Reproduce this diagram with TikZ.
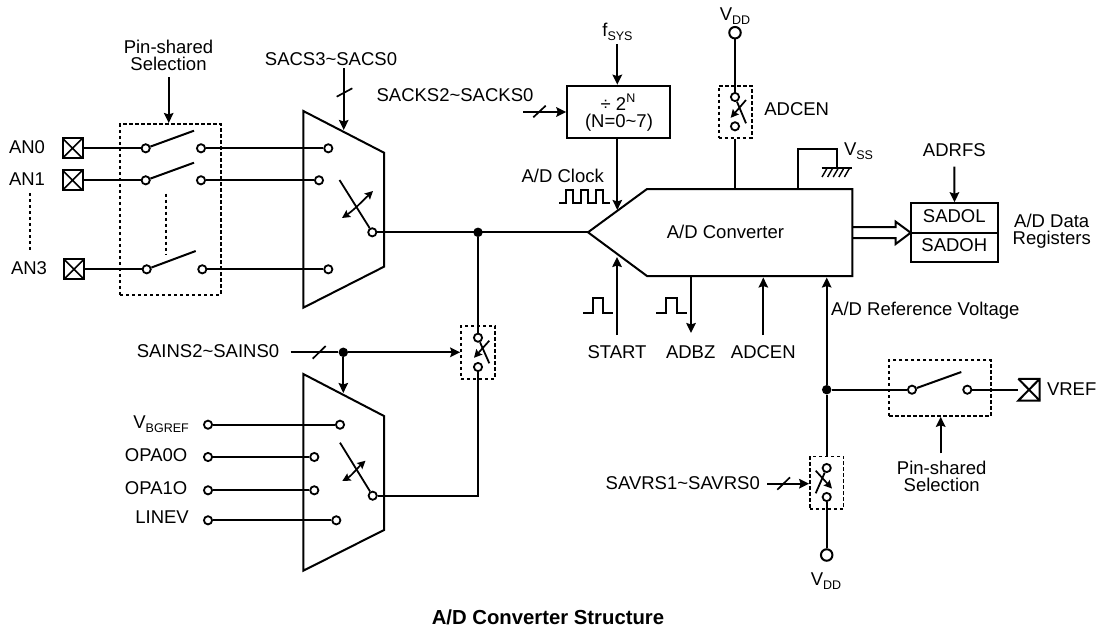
\documentclass[tikz,border=0pt]{standalone}
\usepackage{fontspec}
\setmainfont{Liberation Sans}
\usetikzlibrary{arrows.meta}
\newcommand{\lsub}[1]{\raisebox{-0.22em}{\fontsize{12.5}{12.5}\selectfont #1}}
\newcommand{\lsup}[1]{\raisebox{0.42em}{\fontsize{12.5}{12.5}\selectfont #1}}
\tikzset{
  wire/.style={line width=2pt,line cap=butt,line join=miter},
  arr/.style={wire,-{Stealth[length=10pt,width=9.5pt,inset=1.5pt]}},
  arrb/.style={wire,line width=1.7pt,{Stealth[length=8pt,width=8pt,inset=1.2pt]}-{Stealth[length=8pt,width=8pt,inset=1.2pt]}},
  arre/.style={wire,line width=1.7pt,-{Stealth[length=8pt,width=8pt,inset=1.2pt]}},
  thin wire/.style={line width=1.7pt},
  dbox/.style={line width=1.6pt,dash pattern=on 3.4pt off 2.6pt},
  pt/.style={circle,draw,line width=1.8pt,fill=white,minimum size=8.2pt,inner sep=0pt},
  bigpt/.style={circle,draw,line width=2pt,fill=white,minimum size=11.5pt,inner sep=0pt},
  dot/.style={circle,fill=black,minimum size=9.5pt,inner sep=0pt},
  lab/.style={inner sep=0pt,font=\fontsize{18.5}{17}\selectfont,align=center},
  pad/.style={rectangle,draw,line width=2pt,minimum size=20pt,inner sep=0pt,
    path picture={\draw[line width=1.6pt] (path picture bounding box.north west)--(path picture bounding box.south east)
      (path picture bounding box.north east)--(path picture bounding box.south west);}},
  blk/.style={rectangle,draw,line width=2pt,inner sep=0pt,font=\fontsize{18.5}{20}\selectfont,align=center},
}
\begin{document}
\begin{tikzpicture}[x=1pt,y=-1pt]
\useasboundingbox (0,0) rectangle (1099,629);
% ---------- pads and labels on the left
\node[lab] (lan0) at (27,147) {AN0};
\node[lab] (lan1) at (27,179.5) {AN1};
\node[lab] (lan3) at (29,268) {AN3};
\coordinate (anda) at (30,193); \coordinate (andb) at (30,251);
\draw[dbox] (anda) -- (andb);
\node[pad] (p0) at (72.5,148.3) {};
\node[pad] (p1) at (72.5,180.3) {};
\node[pad] (p3) at (74,269.3) {};
% ---------- pin shared box 1
\node[lab] (ps1) at (168.5,55.5) {Pin-shared\\Selection};
\node[draw,dbox,minimum width=101pt,minimum height=170.5pt,inner sep=0pt] (pb1) at (170.5,209.5) {};
\coordinate (ps1a) at (168.7,77);
\coordinate (ps1b) at (168.7,123);
\draw[arr] (ps1a) -- (ps1b);
\node[pt] (a0l) at (145.7,148.3) {};
\node[pt] (a0r) at (201,148.3) {};
\node[pt] (a1l) at (145.7,180.3) {};
\node[pt] (a1r) at (201,180.3) {};
\node[pt] (a3l) at (146.7,269.3) {};
\node[pt] (a3r) at (202.3,269.3) {};
\coordinate (a0t) at (194,130.7);
\coordinate (a1t) at (194,162.7);
\coordinate (a3t) at (195.7,251);
\draw[wire] (p0) -- (a0l); \draw[wire] (p1) -- (a1l); \draw[wire] (p3) -- (a3l);
\draw[wire] (a0l) -- (a0t); \draw[wire] (a1l) -- (a1t); \draw[wire] (a3l) -- (a3t);
\coordinate (pda) at (166,193.5); \coordinate (pdb) at (166,255);
\draw[dbox] (pda) -- (pdb);
% ---------- mux 1
\coordinate (m1a) at (303.3,111); \coordinate (m1b) at (384,152.7);
\coordinate (m1c) at (384,266.7); \coordinate (m1d) at (303.3,307.7);
\draw[wire,line join=miter] (m1a) -- (m1b) -- (m1c) -- (m1d) -- cycle;
\node[pt] (m0) at (328.3,148.3) {};
\node[pt] (m1) at (319,180.3) {};
\node[pt] (m3) at (328.3,269.3) {};
\node[pt] (mo) at (372.3,232.3) {};
\coordinate (mt) at (339.5,180);
\draw[wire] (a0r) -- (m0); \draw[wire] (a1r) -- (m1); \draw[wire] (a3r) -- (m3);
\draw[wire,line width=1.8pt] (mo) -- (mt);
\coordinate (mca) at (373,191); \coordinate (mcb) at (342,218);
\draw[arrb] (mca) .. controls (364,199.5) and (354,210) .. (mcb);
% SACS
\node[lab] (sacs) at (331,59) {SACS3\textasciitilde SACS0};
\coordinate (sa) at (343.7,68); \coordinate (sb) at (343.7,130);
\draw[arr] (sa) -- (sb);
\coordinate (s1) at (336.7,96.7); \coordinate (s2) at (352.3,88.3);
\draw[thin wire] (s1) -- (s2);
% main line
\coordinate (tip) at (588,232.3);
\node[dot] (j1) at (478,232.3) {};
\draw[wire] (mo) -- (tip);
% ---------- input switch
\node[draw,dbox,minimum width=34pt,minimum height=53pt,inner sep=0pt] (sw1) at (478,352.3) {};
\node[pt] (sw1a) at (478,337.7) {};
\node[pt] (sw1b) at (478,367) {};
\draw[wire] (j1) -- (sw1a);
\coordinate (sw1c) at (489.3,363.3);
\coordinate (sw1d) at (489.3,340.7); \coordinate (sw1e) at (474,357.8);
\draw[wire,line width=1.8pt] (sw1a) -- (sw1c);
\draw[arre] (sw1d) -- (sw1e);
% SAINS
\node[lab] (sains) at (208,351) {SAINS2\textasciitilde SAINS0};
\coordinate (sn) at (290.7,352.3);
\node[dot] (j2) at (343.3,352.3) {};
\coordinate (sn1) at (312.7,358.7); \coordinate (sn2) at (325.7,346);
\draw[wire] (sn) -- (j2);
\draw[arr] (j2) -- (sw1.west);
\draw[thin wire] (sn1) -- (sn2);
\coordinate (m2top) at (343.3,393);
\draw[arr] (j2) -- (m2top);
% ---------- mux 2
\coordinate (n1a) at (303.3,374); \coordinate (n1b) at (384,416);
\coordinate (n1c) at (384,530); \coordinate (n1d) at (303.3,570.7);
\draw[wire] (n1a) -- (n1b) -- (n1c) -- (n1d) -- cycle;
\node[pt] (v0l) at (208,424.7) {}; \node[pt] (v0r) at (340,424.7) {};
\node[pt] (v1l) at (208,457) {};   \node[pt] (v1r) at (314.3,457) {};
\node[pt] (v2l) at (208,490.3) {}; \node[pt] (v2r) at (314.3,490.3) {};
\node[pt] (v3l) at (208,520.3) {}; \node[pt] (v3r) at (336.3,520.3) {};
\draw[wire] (v0l) -- (v0r); \draw[wire] (v1l) -- (v1r);
\draw[wire] (v2l) -- (v2r); \draw[wire] (v3l) -- (v3r);
\node[pt] (no) at (372.7,495.7) {};
\coordinate (nt) at (340,442.7);
\draw[wire,line width=1.8pt] (no) -- (nt);
\coordinate (nca) at (365.5,460.7); \coordinate (ncb) at (342.3,481);
\draw[arrb] (nca) .. controls (358,467.5) and (351,476) .. (ncb);
\draw[wire] (no) -| (sw1b);
\node[lab,anchor=east] (lv0) at (189,424) {V\lsub{BGREF}};
\node[lab,anchor=east] (lv1) at (187.5,455) {OPA0O};
\node[lab,anchor=east] (lv2) at (187.5,488) {OPA1O};
\node[lab,anchor=east] (lv3) at (189,517.5) {LINEV};
% ---------- converter
\coordinate (ca) at (647,189); \coordinate (cb) at (852.3,189);
\coordinate (cc) at (852.3,276); \coordinate (cd) at (647,276);
\draw[wire] (tip) -- (ca) -- (cb) -- (cc) -- (cd) -- cycle;
\node[lab] (conv) at (725.5,232) {A/D Converter};
% ---------- divider
\node[blk,minimum width=103pt,minimum height=52pt] (div) at (618.8,111.7) {};
\node[lab] (d1) at (618,102) {÷ 2\lsup{N}};
\node[lab] (d2) at (619,122.7) {(N=0\textasciitilde 7)};
\node[lab] (fsys) at (617.5,32) {f\lsub{SYS}};
\coordinate (fa) at (617.3,44);
\draw[arr] (fa) -- (div.north-|fa);
\coordinate (ckt) at (617.3,210);
\draw[arr] (div.south-|fa) -- (ckt);
\node[lab] (sacks) at (455,95) {SACKS2\textasciitilde SACKS0};
\coordinate (ska) at (523.3,112);
\coordinate (sk1) at (533.3,117.3); \coordinate (sk2) at (545.7,105.7);
\draw[arr] (ska) -- (ska-|div.west);
\draw[thin wire] (sk1) -- (sk2);
\node[lab] (clk) at (562.7,175.7) {A/D Clock};
\coordinate (cw) at (559.3,203.3);
\draw[thin wire] (cw) -- (565.7,203.3) -- (565.7,190) -- (573.3,190) -- (573.3,203.3) -- (580.7,203.3) -- (580.7,190) -- (588.3,190) -- (588.3,203.3) -- (596,203.3) -- (596,190) -- (603.3,190) -- (603.3,203.3) -- (610,203.3);
% ---------- VDD switch
\node[lab] (vdd1) at (735,16.5) {V\lsub{DD}};
\node[bigpt] (vc1) at (735,32.7) {};
\node[draw,dbox,minimum width=33pt,minimum height=52pt,inner sep=0pt] (sw2) at (735.2,111.7) {};
\node[pt] (sw2a) at (735,97) {};
\node[pt] (sw2b) at (735,126.3) {};
\coordinate (sw2c) at (746,123.3); \coordinate (sw2d) at (746,100); \coordinate (sw2e) at (730.7,117.8);
\draw[wire] (vc1) -- (sw2a);
\draw[wire,line width=1.8pt] (sw2a) -- (sw2c);
\draw[arre] (sw2d) -- (sw2e);
\coordinate (cvd) at (735,189);
\draw[wire] (sw2.south-|cvd) -- (cvd);
\node[lab] (adc1) at (796.7,109) {ADCEN};
% ---------- VSS
\coordinate (g0) at (798.3,189); \coordinate (g1) at (837.3,149); \coordinate (g2) at (837.3,168.3);
\coordinate (gl) at (821.7,168.3); \coordinate (gr) at (852.3,168.3);
\draw[wire] (g0) |- (g1) -- (g2);
\draw[thin wire] (gl) -- (gr);
\foreach \i in {0,1,2,3,4}{\draw[line width=1.4pt] (827+5.6*\i,168.3) -- (822+5.6*\i,177);}
\node[lab] (vss) at (858.5,151.5) {V\lsub{SS}};
% ---------- registers
\node[blk,minimum width=87.6pt,minimum height=29.5pt] (rl) at (954.5,218) {};
\node[blk,minimum width=87.6pt,minimum height=29.5pt] (rh) at (954.5,247.5) {};
\node[lab] (rlt) at (954.3,216.5) {SADOL};
\node[lab] (rht) at (954.3,245.5) {SADOH};
\node[lab] (adrfs) at (954.3,150) {ADRFS};
\coordinate (ada) at (954.3,166.7);
\draw[arr] (ada) -- (rl.north);
\node[lab] (reglab) at (1051.7,231) {A/D Data\\Registers};
\coordinate (da) at (852.3,227); \coordinate (db) at (895.7,227); \coordinate (dc) at (895.7,221.7);
\coordinate (dd) at (910.7,232.7); \coordinate (de) at (895.7,244); \coordinate (df) at (895.7,238); \coordinate (dg) at (852.3,238);
\draw[wire] (da) -- (db) -- (dc) -- (dd) -- (de) -- (df) -- (dg);
% ---------- bottom control
\node[lab] (lst) at (617,352) {START};
\node[lab] (lbz) at (690.7,352) {ADBZ};
\node[lab] (lac) at (763.3,352) {ADCEN};
\coordinate (st0) at (617,335); \coordinate (st1) at (617,257);
\draw[arr] (st0) -- (st1);
\coordinate (bz0) at (691,276); \coordinate (bz1) at (691,333);
\draw[arr] (bz0) -- (bz1);
\coordinate (ac0) at (763.3,335); \coordinate (ac1) at (763.3,277.5);
\draw[arr] (ac0) -- (ac1);
\draw[thin wire] (583.3,313) -- (593.3,313) -- (593.3,298.3) -- (603.3,298.3) -- (603.3,313) -- (613.3,313);
\draw[thin wire] (656.3,313) -- (666.3,313) -- (666.3,298.3) -- (676.7,298.3) -- (676.7,313) -- (686.7,313);
% ---------- reference voltage
\node[lab,anchor=west] (aref) at (831,311) {A/D Reference Voltage};
\node[dot] (j3) at (826.7,389.7) {};
\coordinate (rf) at (826.7,277.5);
\draw[arr] (j3) -- (rf);
\node[draw,dbox,minimum width=101.5pt,minimum height=56pt,inner sep=0pt] (pb2) at (940,388) {};
\node[pt] (rfl) at (912,389.7) {};
\node[pt] (rfr) at (967.3,389.7) {};
\coordinate (rft) at (961.3,372);
\draw[wire] (j3) -- (rfl);
\draw[wire] (rfl) -- (rft);
\node[minimum width=21pt,minimum height=21.4pt,inner sep=0pt] (pv) at (1029,389.7) {};
\draw[wire] (rfr) -- (pv.west);
\draw[line width=2pt] (pv.north west) -- (pv.north east) -- (pv.south east) -- (pv.south west) -- (pv.north east);
\draw[line width=2pt] (pv.north west) -- (pv.south east);
\node[lab] (vref) at (1071.7,389) {VREF};
\coordinate (ps2a) at (940.7,453.3);
\draw[arr] (ps2a) -- (ps2a|-pb2.south);
\node[lab] (ps2) at (941.7,476.5) {Pin-shared\\Selection};
% lower switch
\node[draw,dbox,minimum width=33.7pt,minimum height=52.7pt,inner sep=0pt] (sw3) at (826.8,482.7) {};
\node[pt] (sw3a) at (826.7,468) {};
\node[pt] (sw3b) at (826.7,497) {};
\draw[wire] (j3) -- (sw3.north-|j3);
\coordinate (sw3c) at (815.7,493.3);
\coordinate (sw3d) at (815.7,470.7); \coordinate (sw3e) at (832,488.6);
\draw[wire,line width=1.8pt] (sw3a) -- (sw3c);
\draw[arre] (sw3d) -- (sw3e);
\node[bigpt] (vc2) at (826.7,555) {};
\draw[wire] (sw3b) -- (vc2);
\node[lab] (vdd2) at (826,581) {V\lsub{DD}};
\node[lab,anchor=east] (savrs) at (760,483) {SAVRS1\textasciitilde SAVRS0};
\coordinate (sva) at (767.3,483.7);
\coordinate (sv1) at (777.3,489.7); \coordinate (sv2) at (790,477.3);
\draw[arr] (sva) -- (sw3.west|-sva);
\draw[thin wire] (sv1) -- (sv2);
% ---------- title
\node[lab,font=\fontsize{20.3}{20}\selectfont\bfseries] (title) at (548,617.5) {A/D Converter Structure};
\end{tikzpicture}
\end{document}
